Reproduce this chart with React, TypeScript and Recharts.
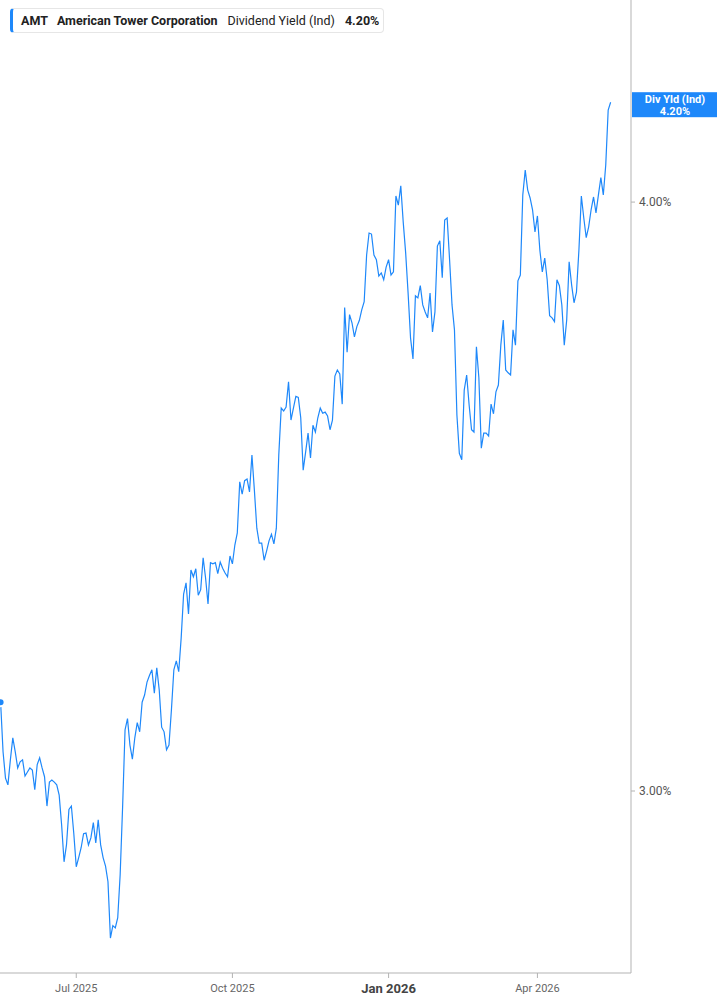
import React from "react";
import {
  LineChart,
  Line,
  XAxis,
  YAxis,
  ReferenceLine,
} from "recharts";

// one value per trading day, mid-May 2025 .. mid-May 2026 (%)
const yields = [
  3.133, 3.058, 3.019, 3.009, 3.046, 3.079, 3.058, 3.034, 3.043, 3.046,
  3.022, 3.028, 3.034, 3.031, 3.002, 3.039, 3.049, 3.034, 3.021, 2.978,
  3.013, 3.016, 3.013, 3.009, 2.994, 2.951, 2.898, 2.922, 2.973, 2.978,
  2.938, 2.891, 2.904, 2.918, 2.938, 2.939, 2.922, 2.932, 2.954, 2.925,
  2.958, 2.922, 2.904, 2.892, 2.87, 2.792, 2.809, 2.806, 2.82, 2.88,
  2.977, 3.091, 3.108, 3.068, 3.047, 3.079, 3.102, 3.088, 3.133, 3.144,
  3.164, 3.174, 3.183, 3.147, 3.186, 3.152, 3.095, 3.088, 3.061, 3.068,
  3.121, 3.183, 3.197, 3.18, 3.233, 3.303, 3.321, 3.271, 3.342, 3.331,
  3.344, 3.301, 3.31, 3.362, 3.329, 3.287, 3.354, 3.352, 3.354, 3.336,
  3.355, 3.345, 3.337, 3.331, 3.365, 3.352, 3.383, 3.403, 3.489, 3.468,
  3.491, 3.494, 3.472, 3.535, 3.475, 3.411, 3.386, 3.386, 3.358, 3.373,
  3.39, 3.401, 3.385, 3.411, 3.535, 3.617, 3.612, 3.619, 3.664, 3.596,
  3.617, 3.638, 3.636, 3.6, 3.509, 3.54, 3.573, 3.53, 3.587, 3.575,
  3.6, 3.617, 3.608, 3.61, 3.603, 3.579, 3.596, 3.674, 3.685, 3.678,
  3.624, 3.799, 3.717, 3.786, 3.771, 3.745, 3.764, 3.775, 3.795, 3.81,
  3.898, 3.94, 3.938, 3.898, 3.889, 3.858, 3.864, 3.851, 3.875, 3.889,
  3.86, 3.866, 4.012, 3.994, 4.032, 3.961, 3.902, 3.826, 3.743, 3.705,
  3.821, 3.817, 3.84, 3.804, 3.791, 3.78, 3.826, 3.754, 3.791, 3.915,
  3.925, 3.855, 3.965, 3.969, 3.889, 3.804, 3.758, 3.605, 3.538, 3.527,
  3.649, 3.676, 3.623, 3.579, 3.575, 3.727, 3.671, 3.547, 3.573, 3.573,
  3.568, 3.624, 3.607, 3.646, 3.658, 3.73, 3.776, 3.685, 3.68, 3.676,
  3.758, 3.73, 3.849, 3.86, 4.014, 4.063, 4.024, 4.008, 3.985, 3.942,
  3.973, 3.907, 3.866, 3.892, 3.851, 3.784, 3.78, 3.773, 3.851, 3.84,
  3.804, 3.73, 3.776, 3.885, 3.842, 3.808, 3.828, 3.907, 4.012, 3.969,
  3.931, 3.952, 3.985, 4.01, 3.979, 4.014, 4.048, 4.014, 4.073, 4.184,
  4.2,
];

// trading-day index of each month label
const xTickIndex = [31, 95, 159, 220];
const xTickLabels = ["Jul 2025", "Oct 2025", "Jan 2026", "Apr 2026"];
const yTicks = [3, 4];

const BLUE = "#1e88fa";
const AXIS = "#b3b3b3";
const FONT = "Roboto, 'Noto Sans', sans-serif";

const data = yields.map((v, i) => ({ i, v }));
const last = yields[yields.length - 1];

const XTick = (props: any) => {
  const { x, y, payload } = props;
  const k = xTickIndex.indexOf(payload.value);
  const label = xTickLabels[k] ?? "";
  const isYear = label.startsWith("Jan");
  return (
    <text
      x={x}
      y={y}
      dy="0.71em"
      textAnchor="middle"
      fontFamily={FONT}
      fontSize={isYear ? 13 : 11}
      fontWeight={isYear ? 700 : 400}
      fill={isYear ? "#444" : "#666"}
    >
      {label}
    </text>
  );
};

const LastLabel = (props: any) => {
  const { viewBox } = props;
  if (!viewBox) return null;
  const x = viewBox.x + viewBox.width + 1;
  const y = viewBox.y;
  return (
    <g>
      <rect x={x} y={y - 10} width={86} height={25} fill={BLUE} />
      <text x={x + 43} y={y + 1} textAnchor="middle" fill="#fff" fontFamily={FONT} fontSize={11} fontWeight={700}>
        Div Yld (Ind)
      </text>
      <text x={x + 43} y={y + 13} textAnchor="middle" fill="#fff" fontFamily={FONT} fontSize={11} fontWeight={700}>
        {last.toFixed(2)}%
      </text>
    </g>
  );
};

export default function App() {
  return (
    <div style={{ position: "absolute", left: 0, top: 0, width: 717, height: 1005, background: "#fff" }}>
      <LineChart
        width={717}
        height={1005}
        data={data}
        margin={{ top: 0, right: 0, bottom: 0, left: 0 }}
      >
        <XAxis
          dataKey="i"
          type="number"
          domain={[-0.25, 258.35]}
          ticks={xTickIndex}
          tick={<XTick />}
          height={32}
          stroke={AXIS}
          tickSize={5}
          tickMargin={6}
          allowDataOverflow
        />
        <YAxis
          orientation="right"
          type="number"
          scale="log"
          domain={[2.7448, 4.415]}
          ticks={yTicks}
          allowDataOverflow
          width={86}
          stroke={AXIS}
          tickSize={4}
          tickMargin={4}
          tick={{ fontSize: 12, fill: "#555", fontFamily: FONT }}
          tickFormatter={(v: number) => `${v.toFixed(2)}%`}
        />
        <Line
          type="linear"
          dataKey="v"
          stroke={BLUE}
          strokeWidth={1.2}
          dot={false}
          isAnimationActive={false}
        />
        <ReferenceLine
          y={last}
          stroke="none"
          ifOverflow="visible"
          label={(p: any) => <LastLabel {...p} />}
        />
      </LineChart>

      <div
        style={{
          position: "absolute",
          left: 10,
          top: 8,
          width: 370,
          height: 23,
          border: "1px solid #e6e6e6",
          borderLeft: `3px solid ${BLUE}`,
          borderRadius: 4,
          background: "#fff",
          display: "flex",
          alignItems: "center",
          fontFamily: FONT,
          fontSize: 12.5,
          color: "#222",
          whiteSpace: "nowrap",
        }}
      >
        <span style={{ fontWeight: 700, marginLeft: 8, marginRight: 9 }}>AMT</span>
        <span style={{ fontWeight: 700, marginRight: 10 }}>American Tower Corporation</span>
        <span style={{ marginRight: 10 }}>Dividend Yield (Ind)</span>
        <span style={{ fontWeight: 700 }}>4.20%</span>
      </div>
    </div>
  );
}
